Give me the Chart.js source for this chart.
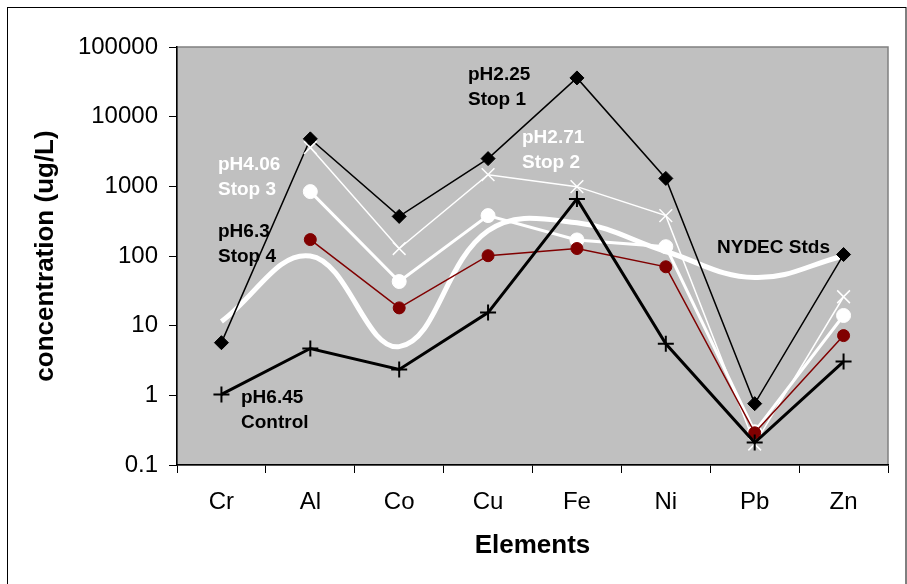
<!DOCTYPE html>
<html>
<head>
<meta charset="utf-8">
<script src="https://cdn.jsdelivr.net/npm/chart.js@4.4.1/dist/chart.umd.min.js"></script>
<style>
  html, body { margin: 0; padding: 0; background: #fff; }
  #wrap { width: 907px; height: 584px; }
</style>
</head>
<body>
<div id="wrap"><canvas id="chart" width="907" height="584"></canvas></div>
<script>
// elements along the x axis
var elements = ["Cr", "Al", "Co", "Cu", "Fe", "Ni", "Pb", "Zn"];

// concentrations, ug/L (null = not plotted)
var stop1   = [5.7, 4800, 370, 2500, 36000, 1300, 0.76, 105];   // pH2.25 Stop 1
var stop2   = [null, 3600, 128, 1470, 990, 380, 0.2, 26];       // pH2.71 Stop 2
var stop3   = [null, 840, 43, 380, 170, 136, 0.3, 14];          // pH4.06 Stop 3
var stop4   = [null, 172, 18, 101, 128, 70, 0.29, 7.2];         // pH6.3 Stop 4
var control = [1.03, 4.7, 2.35, 15.4, 660, 5.5, 0.21, 3.05];    // pH6.45 Control
var nydec   = [11.5, 100, 5, 230, 300, 116, 49, 100];           // NYDEC Stds

var yTicks = [0.1, 1, 10, 100, 1000, 10000, 100000];

var FONT = "'Liberation Sans', Arial, sans-serif";

// text labels written inside the plot
var notes = [
  { lines: ["pH2.25", "Stop 1"], x: 468, y: 75, color: "#000" },
  { lines: ["pH2.71", "Stop 2"], x: 522, y: 138, color: "#fff" },
  { lines: ["pH4.06", "Stop 3"], x: 218, y: 165, color: "#fff" },
  { lines: ["pH6.3", "Stop 4"], x: 218, y: 232, color: "#000" },
  { lines: ["pH6.45", "Control"], x: 241, y: 398, color: "#000" },
  { lines: ["NYDEC Stds"], x: 717, y: 248, color: "#000" }
];

var frame = {
  id: "frame",
  beforeDraw: function (chart) {
    var a = chart.chartArea, c = chart.ctx;
    c.save();
    c.fillStyle = "#c0c0c0";
    c.fillRect(a.left, a.top, a.right - a.left, a.bottom - a.top);
    c.strokeStyle = "#808080";
    c.lineWidth = 1.5;
    c.strokeRect(a.left, a.top, a.right - a.left, a.bottom - a.top);
    c.strokeStyle = "#000";
    c.lineWidth = 1;
    c.strokeRect(7.5, 7.5, 898.5, 600);
    c.restore();
  },
  afterDatasetsDraw: function (chart) {
    var c = chart.ctx;
    c.save();
    c.font = "bold 19px " + FONT;
    c.textAlign = "left";
    c.textBaseline = "middle";
    notes.forEach(function (n) {
      c.fillStyle = n.color;
      n.lines.forEach(function (t, i) {
        c.fillText(t, n.x, n.y + i * 25);
      });
    });
    c.restore();
  }
};

var chart = new Chart(document.getElementById("chart"), {
  type: "line",
  data: {
    labels: elements,
    datasets: [
      {
        label: "pH6.45 Control", data: control,
        borderColor: "#000", borderWidth: 3,
        pointStyle: "cross", pointRadius: 8, pointBorderWidth: 2,
        pointBorderColor: "#000", pointBackgroundColor: "#000"
      },
      {
        label: "pH6.3 Stop 4", data: stop4,
        borderColor: "#800000", borderWidth: 1.5,
        pointStyle: "circle", pointRadius: 6, pointBorderWidth: 1,
        pointBorderColor: "#800000", pointBackgroundColor: "#800000"
      },
      {
        label: "pH4.06 Stop 3", data: stop3,
        borderColor: "#fff", borderWidth: 3,
        pointStyle: "circle", pointRadius: 7, pointBorderWidth: 1,
        pointBorderColor: "#fff", pointBackgroundColor: "#fff"
      },
      {
        label: "pH2.71 Stop 2", data: stop2,
        borderColor: "#fff", borderWidth: 1.5,
        pointStyle: "crossRot", pointRadius: 9, pointBorderWidth: 1.5,
        pointBorderColor: "#fff", pointBackgroundColor: "#fff"
      },
      {
        label: "pH2.25 Stop 1", data: stop1,
        borderColor: "#000", borderWidth: 1.5,
        pointStyle: "rectRot", pointRadius: 7, pointBorderWidth: 1,
        pointBorderColor: "#000", pointBackgroundColor: "#000"
      },
      {
        label: "NYDEC Stds", data: nydec,
        borderColor: "#fff", borderWidth: 5,
        pointRadius: 0, tension: 0.4
      }
    ]
  },
  options: {
    responsive: false,
    animation: false,
    events: [],
    layout: { padding: { top: 47, right: 19, left: 0, bottom: 0 } },
    plugins: { legend: { display: false }, tooltip: { enabled: false } },
    scales: {
      x: {
        offset: true,
        afterFit: function (s) { s.height = 119; },
        ticks: { font: { family: FONT, size: 24 }, color: "#000", padding: 15 },
        grid: { offset: true, drawOnChartArea: false, tickLength: 8, color: "#000" },
        border: { color: "#000", width: 1.5 },
        title: {
          display: true, text: "Elements", color: "#000",
          font: { family: FONT, size: 26, weight: "bold" },
          padding: { top: 0, bottom: 23 }
        }
      },
      y: {
        type: "logarithmic", min: 0.1, max: 100000,
        afterBuildTicks: function (s) {
          s.ticks = yTicks.map(function (v) { return { value: v }; });
        },
        afterFit: function (s) { s.width = 177; },
        ticks: {
          font: { family: FONT, size: 24 }, color: "#000", padding: 11,
          callback: function (v) { return String(v); }
        },
        grid: { drawOnChartArea: false, tickLength: 8, color: "#000" },
        border: { color: "#000", width: 1.5 },
        title: {
          display: true, text: "concentration (ug/L)", color: "#000",
          font: { family: FONT, size: 26, weight: "bold" },
          padding: { top: 30, bottom: 0 }
        }
      }
    }
  },
  plugins: [frame]
});
</script>
</body>
</html>
